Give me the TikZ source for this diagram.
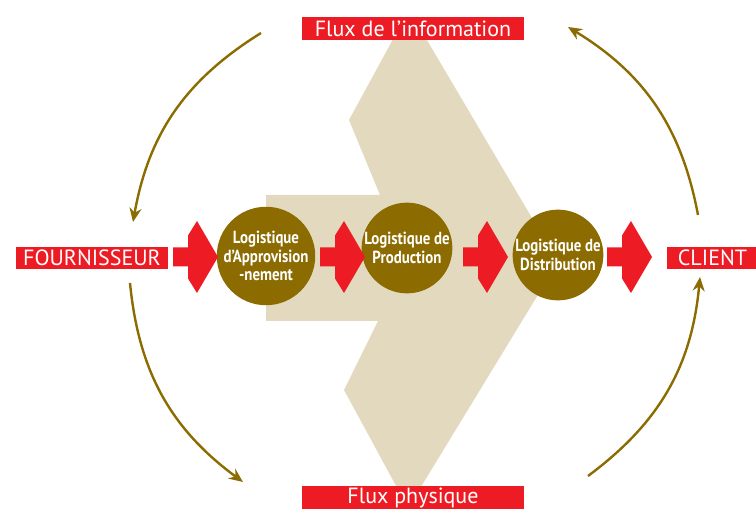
\documentclass[tikz,border=0pt]{standalone}
\usepackage{fontspec}
\setmainfont{PT Sans}
\newfontfamily\etapefont[FakeStretch=0.85]{PT Sans}
\usetikzlibrary{arrows.meta}
\definecolor{rougeflux}{RGB}{237,28,36}
\definecolor{brunlog}{RGB}{140,108,0}
\definecolor{beigefond}{RGB}{227,217,190}
\tikzset{
  flechepleine/.pic={
    \fill[rougeflux] (0,-9.5) -- (15,-9.5) -- (15,-21.5) -- (24,-36) -- (45,0)
      -- (24,36) -- (15,21.5) -- (15,9.5) -- (0,9.5) -- cycle;
  }
}
\begin{document}
\begin{tikzpicture}
    [x=1pt,y=1pt,inner sep=0pt,
     flux/.style={fill=rougeflux,text=white,minimum height=22pt,
       font=\fontsize{22}{22}\selectfont},
     etape/.style={circle,fill=brunlog,minimum size=90pt,text=white,align=center,
       font=\etapefont\bfseries\fontsize{17.5}{18.5}\selectfont},
     sens/.style={draw=brunlog,line width=2.4pt,-{Stealth[length=14pt,width=12pt]}}]
    \useasboundingbox (0,0) rectangle (756,509);
    % grande fleche de fond
    \fill[beigefond] (266,314) -- (380,314) -- (349,389) -- (398,479) -- (421,479)
      -- (558,247) -- (416,14) -- (401,14) -- (344,119) -- (378,188) -- (266,188) -- cycle;
    % etapes
    \node (approv) at (266,253) [etape] {Logistique\\d’Approvision\\-nement};
    \node (production) at (407,261) [etape] {Logistique de\\Production};
    \node (distribution) at (558,254) [etape] {Logistique de\\Distribution};
    % fleches rouges
    \pic at (173,252) {flechepleine};
    \pic at (320,252) {flechepleine};
    \pic at (463,252) {flechepleine};
    \pic at (607,252) {flechepleine};
    % acteurs et flux
    \node (fournisseur) at (92,251) [flux,minimum width=152pt] {FOURNISSEUR};
    \node (client) at (712.5,251) [flux,minimum width=91pt] {CLIENT};
    \node (fluxinfo) at (413,480.5) [flux,minimum width=222pt,minimum height=23pt] {Flux de l’information};
    \node (fluxphys) at (413,11) [flux,minimum width=222pt,minimum height=23pt] {Flux physique};
    % cycle
    \coordinate (info1) at (261,476);
    \coordinate (info2) at (133,287);
    \coordinate (phys1) at (130,226);
    \coordinate (phys2) at (243,27);
    \coordinate (phys3) at (588,33);
    \coordinate (phys4) at (700,232);
    \coordinate (info3) at (698,294);
    \coordinate (info4) at (568,482);
    \draw [sens] (info1) to [bend right=24] (info2);
    \draw [sens] (phys1) to [bend right=24] (phys2);
    \draw [sens] (phys3) to [bend right=24] (phys4);
    \draw [sens] (info3) to [bend right=24] (info4);
  \end{tikzpicture}
\end{document}
